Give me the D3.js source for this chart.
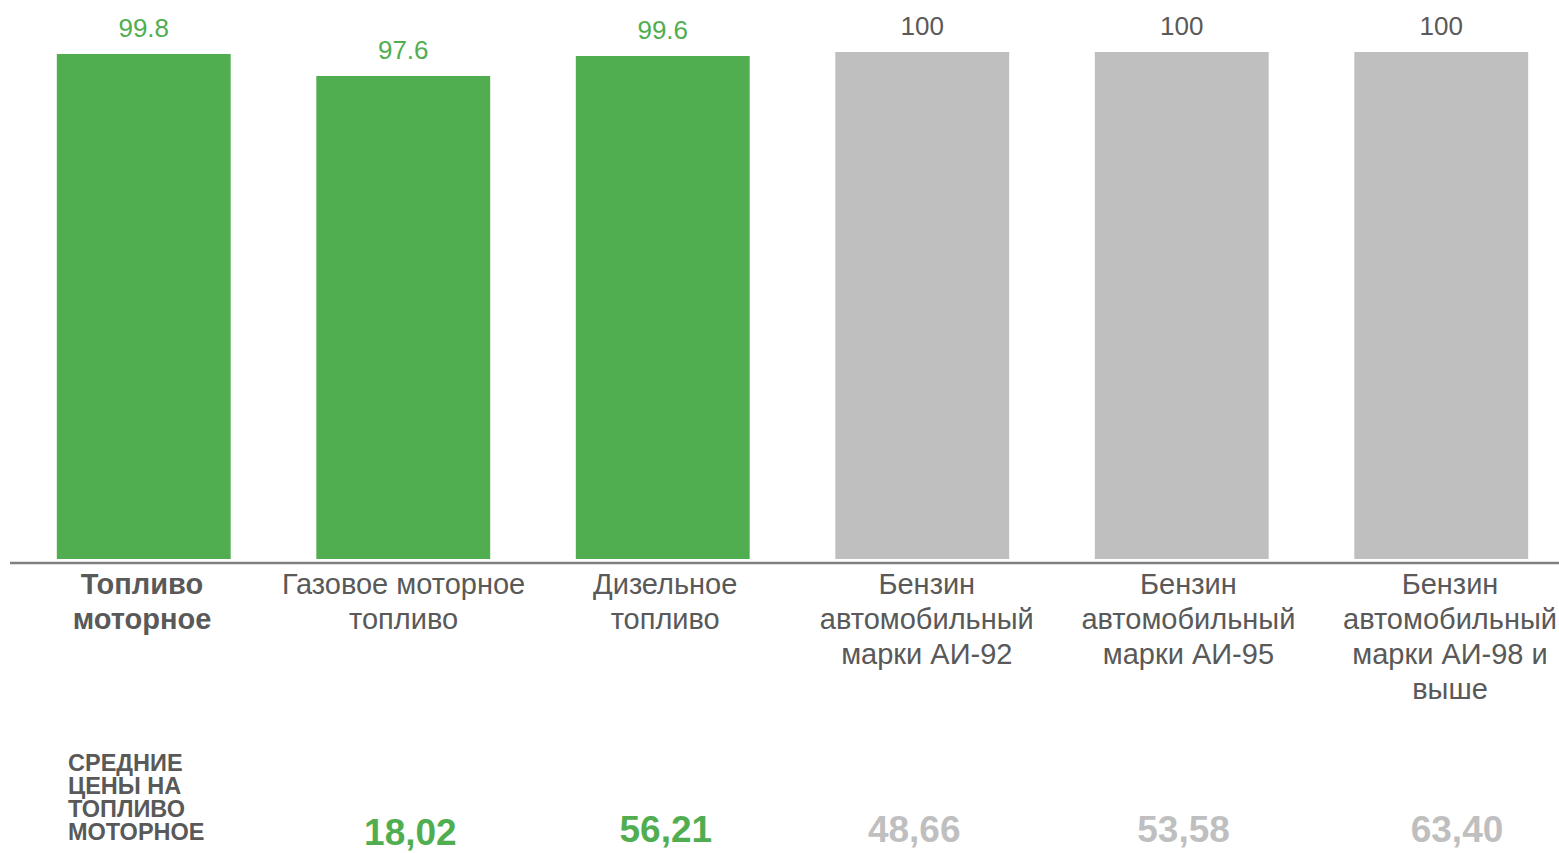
<!DOCTYPE html>
<html>
<head>
<meta charset="utf-8">
<script src="https://cdn.jsdelivr.net/npm/d3@7"></script>
<style>
  body { margin: 0; background: #fff; }
  svg { display: block; font-family: "Liberation Sans", Arial, sans-serif; }
</style>
</head>
<body>
<svg id="chart" width="1559" height="853"></svg>
<script>
// data
var categories = [
  ['Топливо', 'моторное'],
  ['Газовое моторное', 'топливо'],
  ['Дизельное', 'топливо'],
  ['Бензин', 'автомобильный', 'марки АИ-92'],
  ['Бензин', 'автомобильный', 'марки АИ-95'],
  ['Бензин', 'автомобильный', 'марки АИ-98 и', 'выше']
];
var values = [99.8, 97.6, 99.6, 100, 100, 100];
var highlighted = [true, true, true, false, false, false];
var prices = [null, '18,02', '56,21', '48,66', '53,58', '63,40'];
var priceTitle = ['СРЕДНИЕ', 'ЦЕНЫ НА', 'ТОПЛИВО', 'МОТОРНОЕ'];

var svg = d3.select('#chart');
var green = '#50ae50', grey = '#bfbfbf', textGrey = '#595959';

var idx = d3.range(values.length);

var x = d3.scaleBand()
    .domain(idx)
    .range([14, 1571])
    .paddingInner(0.33)
    .paddingOuter(0.165);

var y = d3.scaleLinear()
    .domain([49.3, 100])
    .range([559, 52]);

// label columns are a bit wider than the bars
var xLab = d3.scalePoint().domain(idx).range([142, 1450]);
var xPrice = d3.scalePoint().domain(idx).range([150, 1457]);
var priceNudge = [0, -1, -7, -20, -12, 0];

svg.selectAll('.bar')
    .data(idx)
    .enter().append('rect')
    .attr('class', 'bar')
    .attr('x', function(i){ return x(i); })
    .attr('width', x.bandwidth())
    .attr('y', function(i){ return y(values[i]); })
    .attr('height', function(i){ return y.range()[0] - y(values[i]); })
    .style('fill', function(i){ return highlighted[i] ? green : grey; });

svg.selectAll('.val')
    .data(idx)
    .enter().append('text')
    .attr('class', 'val')
    .attr('x', function(i){ return x(i) + x.bandwidth() / 2; })
    .attr('y', function(i){ return y(values[i]) - 17; })
    .attr('text-anchor', 'middle')
    .style('font-size', '26px')
    .style('fill', function(i){ return highlighted[i] ? green : textGrey; })
    .text(function(i){ return values[i]; });

// baseline
svg.append('line')
    .attr('x1', 10).attr('x2', 1559)
    .attr('y1', 563).attr('y2', 563)
    .style('stroke', '#808080')
    .style('stroke-width', 2.5);

// category labels
var cat = svg.selectAll('.cat')
    .data(idx)
    .enter().append('text')
    .attr('class', 'cat')
    .attr('text-anchor', 'middle')
    .style('font-size', '29px')
    .style('font-weight', function(i){ return i === 0 ? 'bold' : 'normal'; })
    .style('fill', textGrey);

cat.selectAll('tspan')
    .data(function(i){ return categories[i].map(function(t){ return {i: i, t: t}; }); })
    .enter().append('tspan')
    .attr('x', function(d){ return xLab(d.i); })
    .attr('y', function(d, k){ return 593.5 + k * 35.3; })
    .text(function(d){ return d.t; });

// price row
svg.append('text')
    .style('font-weight', 'bold')
    .style('font-size', '23.5px')
    .style('fill', textGrey)
    .selectAll('tspan')
    .data(priceTitle)
    .enter().append('tspan')
    .attr('x', 68)
    .attr('y', function(d, k){ return 771 + k * 23; })
    .text(function(d){ return d; });

svg.selectAll('.price')
    .data(idx.filter(function(i){ return prices[i] !== null; }))
    .enter().append('text')
    .attr('class', 'price')
    .attr('x', function(i){ return xPrice(i) + priceNudge[i]; })
    .attr('y', function(i){ return i === 1 ? 845 : 842; })
    .attr('text-anchor', 'middle')
    .style('font-weight', 'bold')
    .style('font-size', '37px')
    .style('fill', function(i){ return highlighted[i] ? green : grey; })
    .text(function(i){ return prices[i]; });
</script>
</body>
</html>
